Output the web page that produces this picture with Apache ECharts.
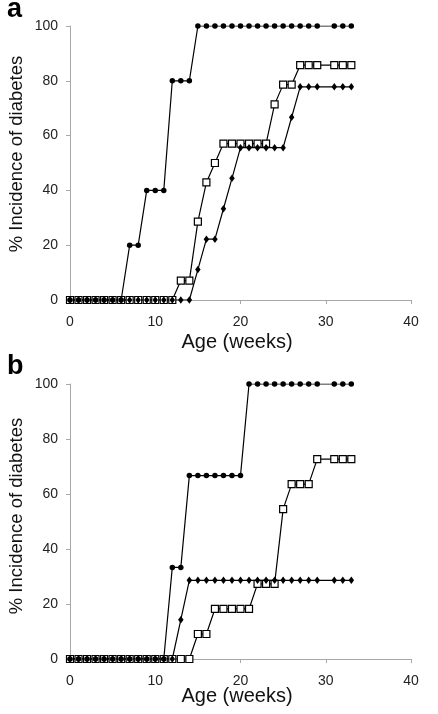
<!DOCTYPE html>
<html>
<head>
<meta charset="utf-8">
<script src="https://cdn.jsdelivr.net/npm/echarts@6/dist/echarts.min.js"></script>
<style>
html,body{margin:0;padding:0;background:#fff;}
#chart{width:438px;height:714px;}
</style>
</head>
<body>
<div id="chart"></div>
<script>
// Age in weeks (week 30 has no reading)
const weeks = [0,1,2,3,4,5,6,7,8,9,10,11,12,13,14,15,16,17,18,19,20,21,22,23,24,25,26,27,28,29,31,32,33];

// Panel a
const aCircles  = [0,0,0,0,0,0,0,20,20,40,40,40,80,80,80,100,100,100,100,100,100,100,100,100,100,100,100,100,100,100,100,100,100];
const aSquares  = [0,0,0,0,0,0,0,0,0,0,0,0,0,7.1,7.1,28.6,42.9,50,57.1,57.1,57.1,57.1,57.1,57.1,71.4,78.6,78.6,85.7,85.7,85.7,85.7,85.7,85.7];
const aDiamonds = [0,0,0,0,0,0,0,0,0,0,0,0,0,0,0,11.1,22.2,22.2,33.3,44.4,55.6,55.6,55.6,55.6,55.6,55.6,66.7,77.8,77.8,77.8,77.8,77.8,77.8];

// Panel b
const bCircles  = [0,0,0,0,0,0,0,0,0,0,0,0,33.3,33.3,66.7,66.7,66.7,66.7,66.7,66.7,66.7,100,100,100,100,100,100,100,100,100,100,100,100];
const bSquares  = [0,0,0,0,0,0,0,0,0,0,0,0,0,0,0,9.1,9.1,18.2,18.2,18.2,18.2,18.2,27.3,27.3,27.3,54.5,63.6,63.6,63.6,72.7,72.7,72.7,72.7];
const bDiamonds = [0,0,0,0,0,0,0,0,0,0,0,0,0,14.3,28.6,28.6,28.6,28.6,28.6,28.6,28.6,28.6,28.6,28.6,28.6,28.6,28.6,28.6,28.6,28.6,28.6,28.6,28.6];

const xTicks = [0,10,20,30,40];
const yTicks = [0,20,40,60,80,100];
const panelLabels = ['a','b'];
const xTitle = 'Age (weeks)';
const yTitle = '% Incidence of diabetes';

const FONT = '"Liberation Sans", Arial, Helvetica, sans-serif';
const AXIS_COLOR = '#a8a8a8';

function pairs(xs, ys){ return xs.map((x,i)=>[x, ys[i]]); }

function xAxisCfg(gi){
  return {
    type:'value', gridIndex:gi, min:xTicks[0], max:xTicks[xTicks.length-1], interval:10,
    axisLine:{show:true, lineStyle:{color:AXIS_COLOR, width:1}},
    axisTick:{show:true, inside:false, length:4, lineStyle:{color:AXIS_COLOR}},
    splitLine:{show:false},
    axisLabel:{fontFamily:FONT, fontSize:14, color:'#222', margin:15}
  };
}
function yAxisCfg(gi){
  return {
    type:'value', gridIndex:gi, min:yTicks[0], max:yTicks[yTicks.length-1], interval:20,
    axisLine:{show:true, lineStyle:{color:AXIS_COLOR, width:1}},
    axisTick:{show:true, inside:false, length:4, lineStyle:{color:AXIS_COLOR}},
    splitLine:{show:false},
    axisLabel:{fontFamily:FONT, fontSize:14, color:'#222', margin:12}
  };
}

function squareSeries(gi, ys){
  return {type:'line', xAxisIndex:gi, yAxisIndex:gi, data:pairs(weeks, ys),
    symbol:'rect', symbolSize:7, showAllSymbol:true,
    lineStyle:{color:'#000', width:1.2},
    itemStyle:{color:'#fff', borderColor:'#000', borderWidth:1.2}};
}
function diamondSeries(gi, ys){
  return {type:'line', xAxisIndex:gi, yAxisIndex:gi, data:pairs(weeks, ys),
    symbol:'diamond', symbolSize:[5.5,7.5], showAllSymbol:true,
    lineStyle:{color:'#000', width:1.2},
    itemStyle:{color:'#000', borderWidth:0}};
}
function circleSeries(gi, ys){
  return {type:'line', xAxisIndex:gi, yAxisIndex:gi, data:pairs(weeks, ys),
    symbol:'circle', symbolSize:5.5, showAllSymbol:true,
    lineStyle:{color:'#000', width:1.2},
    itemStyle:{color:'#000', borderWidth:0}};
}

const chart = echarts.init(document.getElementById('chart'), null, {renderer:'canvas'});
chart.setOption({
  animation:false,
  backgroundColor:'#fff',
  grid:[
    {left:70, right:27, top:26, height:274},
    {left:70, right:27, top:384, height:275}
  ],
  xAxis:[xAxisCfg(0), xAxisCfg(1)],
  yAxis:[yAxisCfg(0), yAxisCfg(1)],
  series:[
    squareSeries(0, aSquares), diamondSeries(0, aDiamonds), circleSeries(0, aCircles),
    squareSeries(1, bSquares), diamondSeries(1, bDiamonds), circleSeries(1, bCircles)
  ],
  graphic:[
    {type:'text', x:7, y:10, style:{text:panelLabels[0], font:'bold 27px '+FONT, fill:'#000', align:'left', verticalAlign:'middle'}},
    {type:'text', x:7, y:367, style:{text:panelLabels[1], font:'bold 27px '+FONT, fill:'#000', align:'left', verticalAlign:'middle'}},
    {type:'text', x:16.5, y:154, rotation:Math.PI/2, style:{text:yTitle, font:'18.5px '+FONT, fill:'#111', align:'center', verticalAlign:'middle'}},
    {type:'text', x:16.5, y:516, rotation:Math.PI/2, style:{text:yTitle, font:'18.5px '+FONT, fill:'#111', align:'center', verticalAlign:'middle'}},
    {type:'text', x:237, y:342, style:{text:xTitle, font:'20px '+FONT, fill:'#111', align:'center', verticalAlign:'middle'}},
    {type:'text', x:237, y:696, style:{text:xTitle, font:'20px '+FONT, fill:'#111', align:'center', verticalAlign:'middle'}}
  ]
});
</script>
</body>
</html>
